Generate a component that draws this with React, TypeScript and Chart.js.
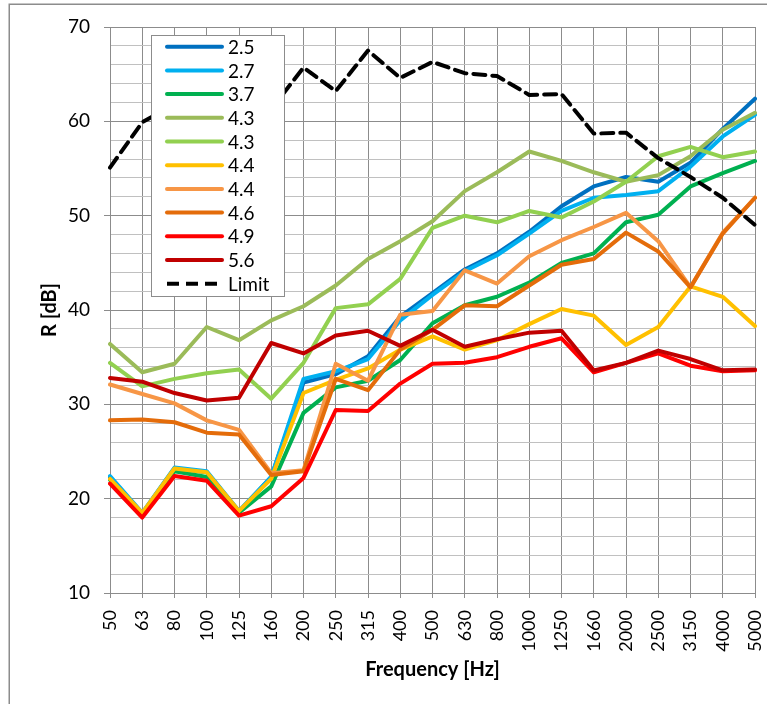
import React, { useEffect, useRef } from 'react';
import { Chart, registerables } from 'chart.js';

Chart.register(...registerables);

const FONT = 'Lato, "Open Sans", "DejaVu Sans", sans-serif';

const frequencies = ['50', '63', '80', '100', '125', '160', '200', '250', '315', '400', '500', '630', '800', '1000', '1250', '1660', '2000', '2500', '3150', '4000', '5000'];

const s25 = [22.3, 18.4, 23.2, 22.8, 18.6, 22.3, 32.3, 33.2, 35.1, 39.3, 41.8, 44.3, 46.0, 48.3, 51.0, 53.1, 54.1, 53.6, 55.6, 59.2, 62.4];
const s27 = [22.4, 18.5, 23.3, 22.9, 18.7, 22.3, 32.7, 33.5, 34.8, 38.9, 41.6, 44.1, 45.8, 48.1, 50.5, 51.9, 52.2, 52.6, 55.2, 58.4, 60.7];
const s37 = [22.0, 18.3, 22.9, 22.3, 18.5, 21.3, 29.1, 31.8, 32.5, 34.7, 38.6, 40.5, 41.4, 42.9, 45.0, 46.0, 49.3, 50.1, 53.1, 54.5, 55.8];
const s43a = [36.4, 33.4, 34.3, 38.2, 36.8, 38.9, 40.4, 42.6, 45.4, 47.3, 49.4, 52.6, 54.6, 56.8, 55.8, 54.6, 53.6, 54.3, 56.3, 59.1, 60.9];
const s43b = [34.4, 31.9, 32.7, 33.3, 33.7, 30.6, 34.4, 40.2, 40.6, 43.3, 48.7, 50.0, 49.3, 50.5, 49.8, 51.5, 53.6, 56.3, 57.3, 56.2, 56.8];
const s44a = [22.1, 18.5, 23.2, 22.8, 18.7, 22.1, 31.2, 32.6, 33.8, 35.8, 37.2, 35.8, 36.8, 38.5, 40.1, 39.4, 36.3, 38.2, 42.5, 41.4, 38.3];
const s44b = [32.1, 31.1, 30.1, 28.3, 27.3, 22.7, 23.0, 34.3, 32.5, 39.5, 39.9, 44.2, 42.8, 45.7, 47.4, 48.8, 50.3, 47.3, 42.4, 48.2, 51.9];
const s46 = [28.3, 28.4, 28.1, 27.0, 26.8, 22.5, 22.9, 32.7, 31.5, 35.8, 37.9, 40.5, 40.4, 42.6, 44.8, 45.4, 48.2, 46.2, 42.4, 48.1, 51.9];
const s49 = [21.6, 18.0, 22.4, 21.9, 18.2, 19.2, 22.2, 29.4, 29.3, 32.2, 34.3, 34.4, 35.0, 36.1, 37.0, 33.4, 34.4, 35.4, 34.1, 33.5, 33.6];
const s56 = [32.8, 32.4, 31.2, 30.4, 30.7, 36.5, 35.4, 37.3, 37.8, 36.2, 37.9, 36.1, 36.9, 37.6, 37.8, 33.6, 34.4, 35.7, 34.8, 33.6, 33.7];
const limit = [55.1, 59.9, 61.8, 62.3, 61.5, 61.3, 65.7, 63.2, 67.5, 64.6, 66.3, 65.1, 64.8, 62.8, 62.9, 58.7, 58.8, 56.1, 54.1, 51.9, 49.0];

const seriesLabels = ['2.5', '2.7', '3.7', '4.3', '4.3', '4.4', '4.4', '4.6', '4.9', '5.6', 'Limit'];
const seriesColors = ['#0070C0', '#00B0F0', '#00B050', '#9BBB59', '#92D050', '#FFC000', '#F79646', '#E46C0A', '#FF0000', '#C00000', '#000000'];

const yMin = 10;
const yMax = 70;
const yStep = 2;
const yLabelStep = 10;

const GRID_MAJOR = '#8c8c8c';
const GRID_MINOR = '#c0c0c0';

const borderPlugin = {
  id: 'outerBorder',
  beforeDraw(chart: any) {
    const { ctx } = chart;
    ctx.save();
    ctx.fillStyle = '#ffffff';
    ctx.fillRect(0, 0, chart.width, chart.height);
    ctx.strokeStyle = '#8c8c8c';
    ctx.lineWidth = 1.5;
    ctx.strokeRect(9.25, 4.25, chart.width + 20, chart.height + 20);
    ctx.restore();
  },
};

const insideLegend = {
  id: 'insideLegend',
  afterDraw(chart: any) {
    const { ctx, chartArea } = chart;
    const x0 = chartArea.left + 41;
    const y0 = chartArea.top + 8;
    const w = 133;
    const h = 261;
    ctx.save();
    ctx.fillStyle = '#ffffff';
    ctx.fillRect(x0, y0, w, h);
    ctx.strokeStyle = '#8c8c8c';
    ctx.lineWidth = 1;
    ctx.strokeRect(x0 + 0.5, y0 + 0.5, w, h);
    chart.data.datasets.forEach((ds: any, i: number) => {
      const y = y0 + 11.7 + i * 23.7;
      ctx.beginPath();
      ctx.setLineDash(ds.borderDash || []);
      ctx.strokeStyle = ds.borderColor;
      ctx.lineWidth = 4;
      ctx.lineCap = ds.borderDash && ds.borderDash.length ? 'butt' : 'round';
      ctx.moveTo(x0 + 16, y);
      ctx.lineTo(x0 + 71, y);
      ctx.stroke();
      ctx.setLineDash([]);
      ctx.fillStyle = '#000000';
      ctx.font = `19px ${FONT}`;
      ctx.textBaseline = 'middle';
      ctx.textAlign = 'left';
      ctx.fillText(ds.label, x0 + 77, y + 1);
    });
    ctx.restore();
  },
};

export default function App() {
  const ref = useRef<HTMLCanvasElement>(null);

  useEffect(() => {
    const canvas = ref.current;
    if (!canvas) return;
    const values = [s25, s27, s37, s43a, s43b, s44a, s44b, s46, s49, s56, limit];
    const n = values.length;
    const datasets = values.map((v, i) => ({
      label: seriesLabels[i],
      data: v,
      borderColor: seriesColors[i],
      backgroundColor: seriesColors[i],
      borderWidth: 4,
      pointRadius: 0,
      pointHoverRadius: 0,
      tension: 0,
      fill: false,
      order: n - i,
      borderDash: i === n - 1 ? [12, 7] : [],
      borderJoinStyle: 'round' as const,
      borderCapStyle: 'round' as const,
    }));

    const chart = new Chart(canvas, {
      type: 'line',
      data: { labels: frequencies, datasets },
      options: {
        responsive: false,
        animation: false,
        events: [],
        layout: { padding: { top: 27, right: 12, left: 0, bottom: 0 } },
        plugins: {
          legend: { display: false },
          tooltip: { enabled: false },
        },
        scales: {
          x: {
            type: 'category',
            offset: false,
            grid: {
              display: true,
              color: GRID_MAJOR,
              lineWidth: 1,
              tickLength: 5,
              offset: false,
            },
            border: { display: true, color: GRID_MAJOR, width: 1 },
            ticks: {
              autoSkip: false,
              minRotation: 90,
              maxRotation: 90,
              padding: 12,
              color: '#000000',
              font: { family: FONT, size: 18 },
            },
            title: {
              display: true,
              text: 'Frequency [Hz]',
              color: '#000000',
              font: { family: FONT, size: 20, weight: 'bold' },
              padding: { top: 0, bottom: 22 },
            },
            afterFit(scale: any) {
              scale.height = 111;
              scale.paddingLeft = 0;
              scale.paddingRight = 0;
            },
          },
          y: {
            type: 'linear',
            min: yMin,
            max: yMax,
            grid: {
              color: (c: any) => (c.tick && c.tick.value % yLabelStep === 0 ? GRID_MAJOR : GRID_MINOR),
              tickColor: (c: any) => (c.tick && c.tick.value % yLabelStep === 0 ? GRID_MAJOR : 'rgba(0,0,0,0)'),
              lineWidth: 1,
              tickLength: 6,
            },
            border: { display: true, color: GRID_MAJOR, width: 1 },
            ticks: {
              stepSize: yStep,
              autoSkip: false,
              padding: 14,
              color: '#000000',
              font: { family: FONT, size: 19 },
              callback: (v: any) => (Number(v) % yLabelStep === 0 ? String(v) : ''),
            },
            title: {
              display: true,
              text: 'R [dB]',
              color: '#000000',
              font: { family: FONT, size: 20, weight: 'bold' },
              padding: { top: 38, bottom: 0 },
            },
            afterFit(scale: any) {
              scale.width = 110;
              scale.paddingTop = 0;
              scale.paddingBottom = 0;
            },
          },
        },
      },
      plugins: [borderPlugin, insideLegend],
    } as any);

    return () => chart.destroy();
  }, []);

  return (
    <div style={{ position: 'absolute', left: 0, top: 0, width: 767, height: 704, overflow: 'hidden' }}>
      <canvas ref={ref} width={767} height={704} style={{ display: 'block', width: 767, height: 704 }} />
    </div>
  );
}
